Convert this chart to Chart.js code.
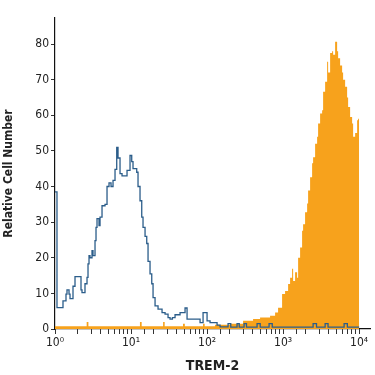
<!DOCTYPE html>
<html><head><meta charset="utf-8">
<script src="https://cdn.jsdelivr.net/npm/chart.js@4/dist/chart.umd.min.js"></script>
<style>html,body{margin:0;padding:0;background:#fff}#wrap{width:375px;height:375px}</style>
</head><body><div id="wrap"><canvas id="c" width="375" height="375"></canvas></div>
<script>
// Isotype control (blue outline) – x = fluorescence, y = relative cell number
const isoX = [1.000,1.062,1.274,1.395,1.438,1.529,1.576,1.725,1.833,2.198,2.266,2.48,2.637,2.718,2.802,2.887,3.068,3.162,3.36,3.463,3.57,3.793,3.91,4.154,4.55,4.833,5.135,5.456,5.797,6.158,6.484,6.745,7.166,7.613,8.859,9.701,10.21,10.62,11.88,12.36,13.13,13.83,14.38,15.29,16.09,16.74,17.78,18.73,19.48,20.7,22.66,25.58,28.03,30.68,32.6,35,37.93,44.13,51.35,54.56,59.75,80.9,88.6,100,109.5,135.4,148.3,188.9,205,248,265,306.7,330,454.7,500,654,720,2482,2750,3571,3900,6347,7000,10000];
const isoY = [38.5,6,7.9,9.8,11,9.8,8.5,12,14.7,11,10.2,12.7,14.5,18.3,20.6,20,22,20.6,24.8,28.5,31,29,31.4,34.6,35,40,41,40,41.7,44.8,51,48,43.6,43,44.5,48.7,47,45,44,40,36,31.4,28.5,26,24,19,15.5,12.7,8.8,6.5,5.6,4.6,4.2,3.2,2.8,3.2,4,4.6,5.9,2.8,2.8,1.8,4.6,2.3,1.8,1.1,0.6,1.5,0.5,1.5,0.5,1.5,0.5,1.5,0.5,1.5,0.5,1.5,0.5,1.5,0.5,1.5,0.5,0.5];
// TREM-2 stained (orange filled)
const tremX = [1.0,2.5,2.61,2.75,12.5,13.1,13.8,25.2,26.4,27.7,46,48.3,51,84,88.6,93,127,200,297.5,403,498,674,785,859,970,1062,1164,1236,1313,1355,1438,1529,1576,1674,1778,1833,1946,2070,2133,2266,2408,2482,2637,2802,2887,3068,3260,3360,3571,3793,3910,4154,4413,4550,4833,5135,5294,5623,5975,6158,6545,6952,7166,7613,8088,8337,8859,9411,9701,10000];
const tremY = [0.8,0.8,2,0.8,0.8,2,0.8,0.8,2,0.8,0.8,1.5,0.8,0.8,1.5,0.8,1.2,1.5,2.3,2.8,3.2,3.7,4.6,6,9.8,10.7,12.6,14.4,16.9,13.5,15.9,14.4,20,22.9,27.6,29.4,32.8,35.2,38.9,42.6,46.5,48.2,52,54,57.7,60.5,61.4,66.6,69.4,75,72,77.5,78,77,80.6,78,76,74,72,70,68,65,62.3,59.5,57.7,54,55,58.6,59,0];
const xTickLabels = ['10\u2070','10\u00b9','10\u00b2','10\u00b3','10\u2074'];
const yTicks = [0,10,20,30,40,50,60,70,80];

const pts = (xs, ys) => xs.map((x, i) => ({x: x, y: ys[i]}));
const FONT = "'Liberation Sans Narrow','DejaVu Sans Condensed',sans-serif";

new Chart(document.getElementById('c'), {
  type: 'line',
  data: {
    datasets: [
      {data: pts(isoX, isoY), borderColor: '#2b5d8a', borderWidth: 1.3, fill: false, pointRadius: 0, stepped: 'before', order: 0},
      {data: pts(tremX, tremY), borderColor: 'rgba(0,0,0,0)', borderWidth: 0, backgroundColor: '#f7a21c', fill: 'origin', pointRadius: 0, stepped: 'before', order: 1}
    ]
  },
  options: {
    responsive: false, animation: false,
    layout: {padding: {left: 0, right: 5, top: 18, bottom: 0}},
    plugins: {legend: {display: false}, tooltip: {enabled: false}},
    scales: {
      x: {
        type: 'logarithmic', min: 1, max: 13900,
        afterBuildTicks: (a) => { a.ticks = a.ticks.filter(t => t.value <= 10000); },
        afterFit: (s) => { s.height = 46; },
        grid: {display: true, drawOnChartArea: false, drawTicks: true, tickLength: 5, color: '#333'},
        border: {display: true, color: '#111', width: 1.2},
        ticks: {
          autoSkip: false, maxRotation: 0, padding: 2, color: '#222',
          font: {family: FONT, size: 12},
          callback: (v) => { const e = Math.round(Math.log10(v)); return Math.abs(v - Math.pow(10, e)) < 1e-6 * v ? xTickLabels[e] : ''; }
        },
        title: {display: true, text: 'TREM-2', color: '#222', font: {family: FONT, size: 14, weight: 'bold'}, padding: {top: 1, bottom: 0}}
      },
      y: {
        type: 'linear', min: 0, max: 87.3,
        afterBuildTicks: (a) => { a.ticks = yTicks.map(v => ({value: v})); },
        afterFit: (s) => { s.width = 55; },
        grid: {display: true, drawOnChartArea: false, drawTicks: true, tickLength: 4, color: '#333'},
        border: {display: true, color: '#111', width: 1.2},
        ticks: {padding: 2, color: '#222', font: {family: FONT, size: 12}},
        title: {display: true, text: 'Relative Cell Number', color: '#222', font: {family: FONT, size: 12, weight: 'bold'}, padding: {top: 2, bottom: 4}}
      }
    }
  }
});
</script></body></html>
